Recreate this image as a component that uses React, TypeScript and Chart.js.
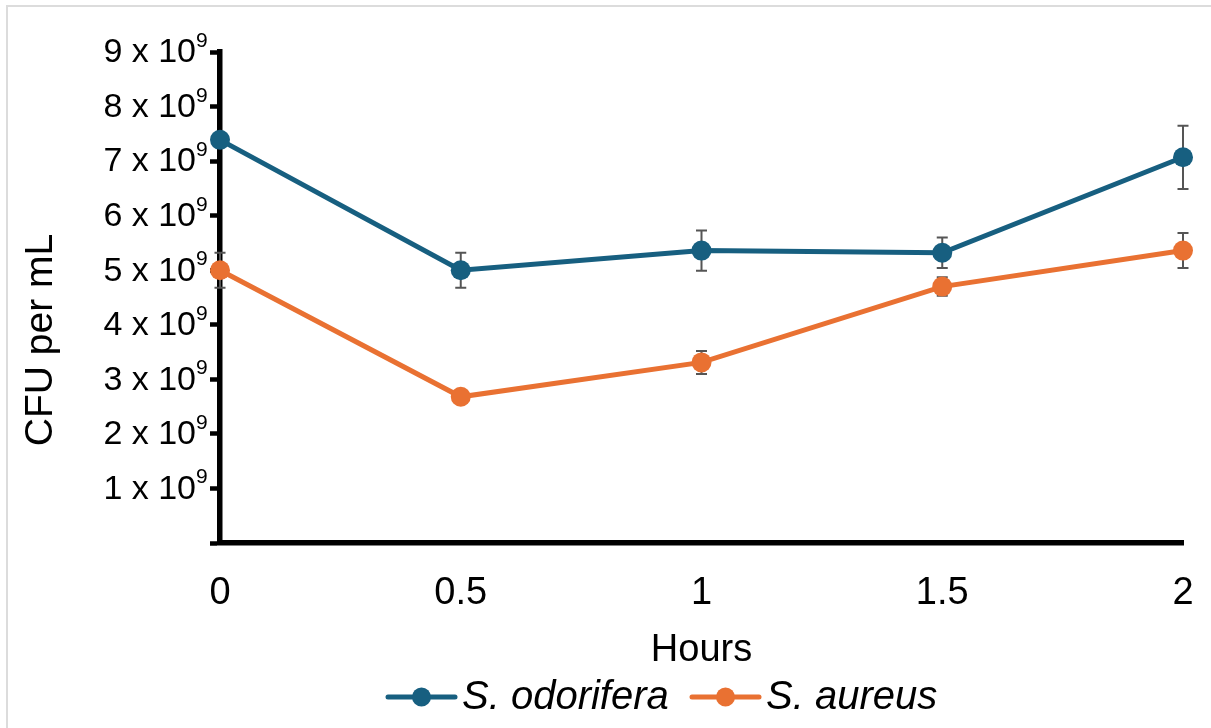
import React, { useEffect, useRef } from "react";
import { Chart, registerables } from "chart.js";

Chart.register(...registerables);

// ---- data ----
const hours = [0, 0.5, 1, 1.5, 2];
const seriesNames = ["S. odorifera", "S. aureus"];
const odoriferaMean = [7.39e9, 5.0e9, 5.36e9, 5.32e9, 7.07e9];
const odoriferaErr = [0.1e9, 0.32e9, 0.37e9, 0.28e9, 0.58e9];
const aureusMean = [5.0e9, 2.68e9, 3.31e9, 4.7e9, 5.36e9];
const aureusErr = [0.32e9, 0.08e9, 0.21e9, 0.17e9, 0.32e9];
const yMax = 9e9;
const yStep = 1e9;
const tickExponent = "9";
const xTitle = "Hours";
const yTitle = "CFU per mL";

const BLUE = "#175f80";
const ORANGE = "#e97132";
const FONT = '"Liberation Sans", Arial, sans-serif';

const means = [odoriferaMean, aureusMean];
const errs = [odoriferaErr, aureusErr];
const colors = [BLUE, ORANGE];

const errorBarPlugin = {
  id: "errorBars",
  beforeDatasetsDraw(chart: any) {
    const { ctx } = chart;
    const xs = chart.scales.x;
    const ys = chart.scales.y;
    ctx.save();
    ctx.strokeStyle = "#555555";
    ctx.lineWidth = 2;
    means.forEach((m, i) => {
      m.forEach((v, j) => {
        const x = xs.getPixelForValue(hours[j]);
        const yt = ys.getPixelForValue(v + errs[i][j]);
        const yb = ys.getPixelForValue(v - errs[i][j]);
        ctx.beginPath();
        ctx.moveTo(x, yt);
        ctx.lineTo(x, yb);
        ctx.moveTo(x - 5.5, yt);
        ctx.lineTo(x + 5.5, yt);
        ctx.moveTo(x - 5.5, yb);
        ctx.lineTo(x + 5.5, yb);
        ctx.stroke();
      });
    });
    ctx.restore();
  },
};

const textPlugin = {
  id: "texts",
  afterDraw(chart: any) {
    const { ctx, chartArea } = chart;
    const xs = chart.scales.x;
    const ys = chart.scales.y;
    ctx.save();
    ctx.fillStyle = "#000";

    // y tick labels with superscript exponent
    ys.ticks.forEach((t: any) => {
      if (t.value <= 0) return;
      const y = ys.getPixelForValue(t.value);
      const mant = Math.round(t.value / yStep);
      ctx.font = `34px ${FONT}`;
      ctx.textAlign = "right";
      ctx.textBaseline = "middle";
      ctx.fillText(`${mant} x 10`, 196, y + 1);
      ctx.font = `21px ${FONT}`;
      ctx.textAlign = "left";
      ctx.textBaseline = "alphabetic";
      ctx.fillText(tickExponent, 196, y - 5);
    });

    // x tick labels
    ctx.font = `38px ${FONT}`;
    ctx.textAlign = "center";
    ctx.textBaseline = "middle";
    hours.forEach((h) => {
      ctx.fillText(String(h), xs.getPixelForValue(h), 594);
    });

    // x title
    ctx.fillText(xTitle, (chartArea.left + chartArea.right) / 2, 651);

    // y title
    ctx.save();
    ctx.font = `39px ${FONT}`;
    ctx.translate(41, 340);
    ctx.rotate(-Math.PI / 2);
    ctx.fillText(yTitle, 0, 0);
    ctx.restore();

    // legend
    const items = [
      { x0: 388, color: colors[0], text: seriesNames[0] },
      { x0: 692, color: colors[1], text: seriesNames[1] },
    ];
    const ly = 697;
    items.forEach((it) => {
      ctx.strokeStyle = it.color;
      ctx.lineWidth = 5;
      ctx.lineCap = "round";
      ctx.beginPath();
      ctx.moveTo(it.x0, ly);
      ctx.lineTo(it.x0 + 67, ly);
      ctx.stroke();
      ctx.fillStyle = it.color;
      ctx.beginPath();
      ctx.arc(it.x0 + 33.5, ly, 9.5, 0, Math.PI * 2);
      ctx.fill();
      ctx.fillStyle = "#000";
      ctx.font = `italic 40px ${FONT}`;
      ctx.textAlign = "left";
      ctx.textBaseline = "middle";
      ctx.fillText(it.text, it.x0 + 74, ly + 1);
    });
    ctx.restore();
  },
};

export default function App() {
  const ref = useRef<HTMLCanvasElement>(null);
  useEffect(() => {
    if (!ref.current) return;
    const chart = new Chart(ref.current, {
      type: "line",
      data: {
        datasets: means.map((m, i) => ({
          label: seriesNames[i],
          data: hours.map((h, j) => ({ x: h, y: m[j] })),
          borderColor: colors[i],
          backgroundColor: colors[i],
          pointBackgroundColor: colors[i],
          pointBorderWidth: 0,
          pointRadius: 10,
          borderWidth: 5,
          tension: 0,
          clip: false as any,
        })),
      },
      options: {
        animation: false,
        responsive: true,
        maintainAspectRatio: false,
        layout: { padding: { top: 52, right: 28, left: 0, bottom: 0 } },
        plugins: { legend: { display: false }, tooltip: { enabled: false } },
        scales: {
          x: {
            type: "linear",
            min: 0,
            max: 2,
            ticks: { display: false, stepSize: 0.5 },
            grid: { display: true, drawOnChartArea: false, drawTicks: false, color: "#000" },
            border: { display: true, color: "#000", width: 5.5 },
            afterFit: (s: any) => {
              s.height = 185;
            },
          },
          y: {
            min: 0,
            max: yMax,
            ticks: { display: false, stepSize: yStep },
            grid: {
              display: true,
              drawOnChartArea: false,
              drawTicks: true,
              tickLength: 10,
              tickWidth: 4.5,
              tickColor: "#000",
              color: "#000",
            },
            border: { display: true, color: "#000", width: 5.5 },
            afterFit: (s: any) => {
              s.width = 220;
            },
          },
        },
      },
      plugins: [errorBarPlugin, textPlugin],
    });
    return () => chart.destroy();
  }, []);
  return (
    <div style={{ position: "fixed", left: 0, top: 0, width: 1211, height: 728, background: "#fff" }}>
      <canvas ref={ref} />
      <div
        style={{
          position: "absolute",
          left: 6,
          top: 5,
          right: 0,
          bottom: 0,
          borderLeft: "2px solid #dcdcdc",
          borderTop: "2px solid #dcdcdc",
          pointerEvents: "none",
        }}
      />
    </div>
  );
}
